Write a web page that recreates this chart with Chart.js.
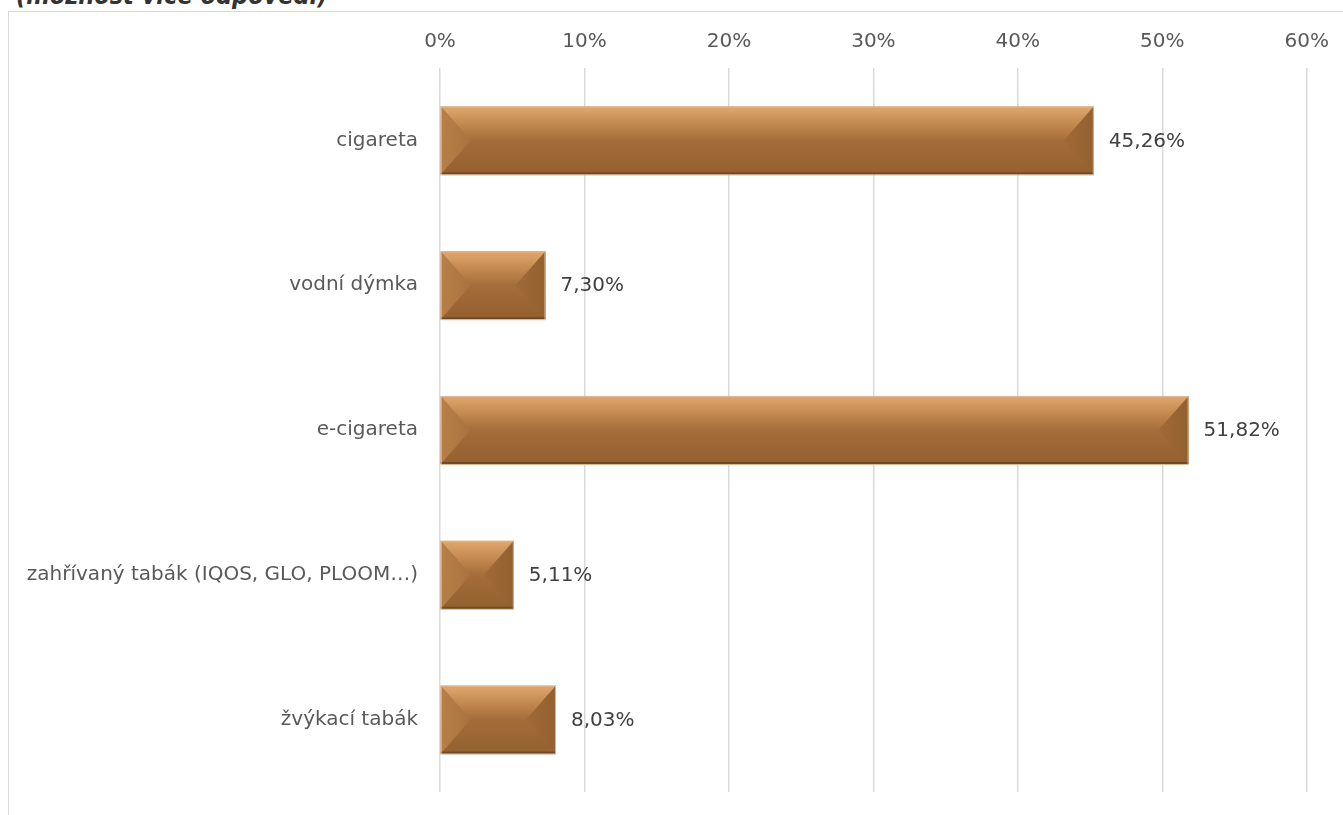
<!DOCTYPE html>
<html>
<head>
<meta charset="utf-8">
<script src="https://cdn.jsdelivr.net/npm/chart.js@4"></script>
<style>
  html, body { margin: 0; padding: 0; background: #fff; overflow: hidden; }
  body { width: 1343px; height: 815px; position: relative; }
  #title { position: absolute; left: 16px; top: -19px; font: italic bold 25px "DejaVu Sans Condensed", "DejaVu Sans", sans-serif; color: #333; white-space: nowrap; }
  #frame { position: absolute; left: 8px; top: 11px; width: 1400px; height: 900px; border: 1px solid #d9d9d9; box-sizing: border-box; }
  #wrap { position: absolute; left: 0; top: 0; width: 1343px; height: 826px; }
</style>
</head>
<body>
<div id="title">(možnost více odpovědí)</div>
<div id="frame"></div>
<div id="wrap"><canvas id="c"></canvas></div>
<script>
const categories = ["cigareta", "vodní dýmka", "e-cigareta", "zahřívaný tabák (IQOS, GLO, PLOOM…)", "žvýkací tabák"];
const values = [45.26, 7.30, 51.82, 5.11, 8.03];
const valueLabels = ["45,26%", "7,30%", "51,82%", "5,11%", "8,03%"];
const axisMax = 60;
const axisStep = 10;

const FONT = '"DejaVu Sans", sans-serif';

const bevelPlugin = {
  id: 'bevel',
  afterDatasetsDraw(chart) {
    const ctx = chart.ctx;
    const meta = chart.getDatasetMeta(0);
    meta.data.forEach((bar, i) => {
      const x0 = bar.base, x1 = bar.x;
      const y0 = bar.y - bar.height / 2, y1 = bar.y + bar.height / 2;
      const yc = bar.y;
      const w = x1 - x0, h = y1 - y0;
      const b = Math.min(30, w / 2);
      ctx.save();
      const g = ctx.createLinearGradient(0, y0, 0, y1);
      g.addColorStop(0, '#e0a870');
      g.addColorStop(0.18, '#cc9258');
      g.addColorStop(0.5, '#a46d3a');
      g.addColorStop(1, '#93602f');
      ctx.fillStyle = g;
      ctx.fillRect(x0, y0, w, h);
      const gl = ctx.createLinearGradient(x0, 0, x0 + b, 0);
      gl.addColorStop(0, '#b88049');
      gl.addColorStop(1, '#a9713d');
      ctx.fillStyle = gl;
      ctx.beginPath();
      ctx.moveTo(x0, y0);
      ctx.lineTo(x0 + b, yc);
      ctx.lineTo(x0, y1);
      ctx.closePath();
      ctx.fill();
      const gr = ctx.createLinearGradient(x1 - b, 0, x1, 0);
      gr.addColorStop(0, '#a06a37');
      gr.addColorStop(1, '#93602f');
      ctx.fillStyle = gr;
      ctx.beginPath();
      ctx.moveTo(x1, y0);
      ctx.lineTo(x1 - b, yc);
      ctx.lineTo(x1, y1);
      ctx.closePath();
      ctx.fill();
      ctx.fillStyle = '#6f4a27';
      ctx.fillRect(x0, y1 - 2, w, 2);
      ctx.strokeStyle = '#d9b896';
      ctx.lineWidth = 1;
      ctx.strokeRect(x0 + 0.5, y0 + 0.5, w - 1, h);
      ctx.restore();

      ctx.save();
      ctx.font = '20px ' + FONT;
      ctx.fillStyle = '#404040';
      ctx.textAlign = 'left';
      ctx.textBaseline = 'middle';
      ctx.fillText(valueLabels[i], x1 + 15, yc + 1);
      ctx.restore();
    });
  }
};

new Chart(document.getElementById('c'), {
  type: 'bar',
  data: {
    labels: categories,
    datasets: [{
      data: values,
      backgroundColor: 'rgba(0,0,0,0)',
      borderWidth: 0,
      categoryPercentage: 1,
      barPercentage: 0.47
    }]
  },
  options: {
    indexAxis: 'y',
    responsive: true,
    maintainAspectRatio: false,
    animation: false,
    events: [],
    layout: { padding: { left: 0, right: 35, top: 0, bottom: 12 } },
    plugins: { legend: { display: false }, tooltip: { enabled: false } },
    scales: {
      x: {
        position: 'top',
        min: 0, max: axisMax,
        ticks: { stepSize: axisStep, callback: v => v + '%', color: '#595959', font: { family: FONT, size: 20 }, padding: 14 },
        grid: { color: '#d9d9d9', lineWidth: 1.5, drawTicks: false },
        border: { display: false },
        afterFit(scale) { scale.height = 68; }
      },
      y: {
        ticks: { color: '#595959', font: { family: FONT, size: 20 }, padding: 22 },
        grid: { display: false, drawTicks: false },
        border: { display: false },
        afterFit(scale) { scale.width = 440; }
      }
    }
  },
  plugins: [bevelPlugin]
});
</script>
</body>
</html>
